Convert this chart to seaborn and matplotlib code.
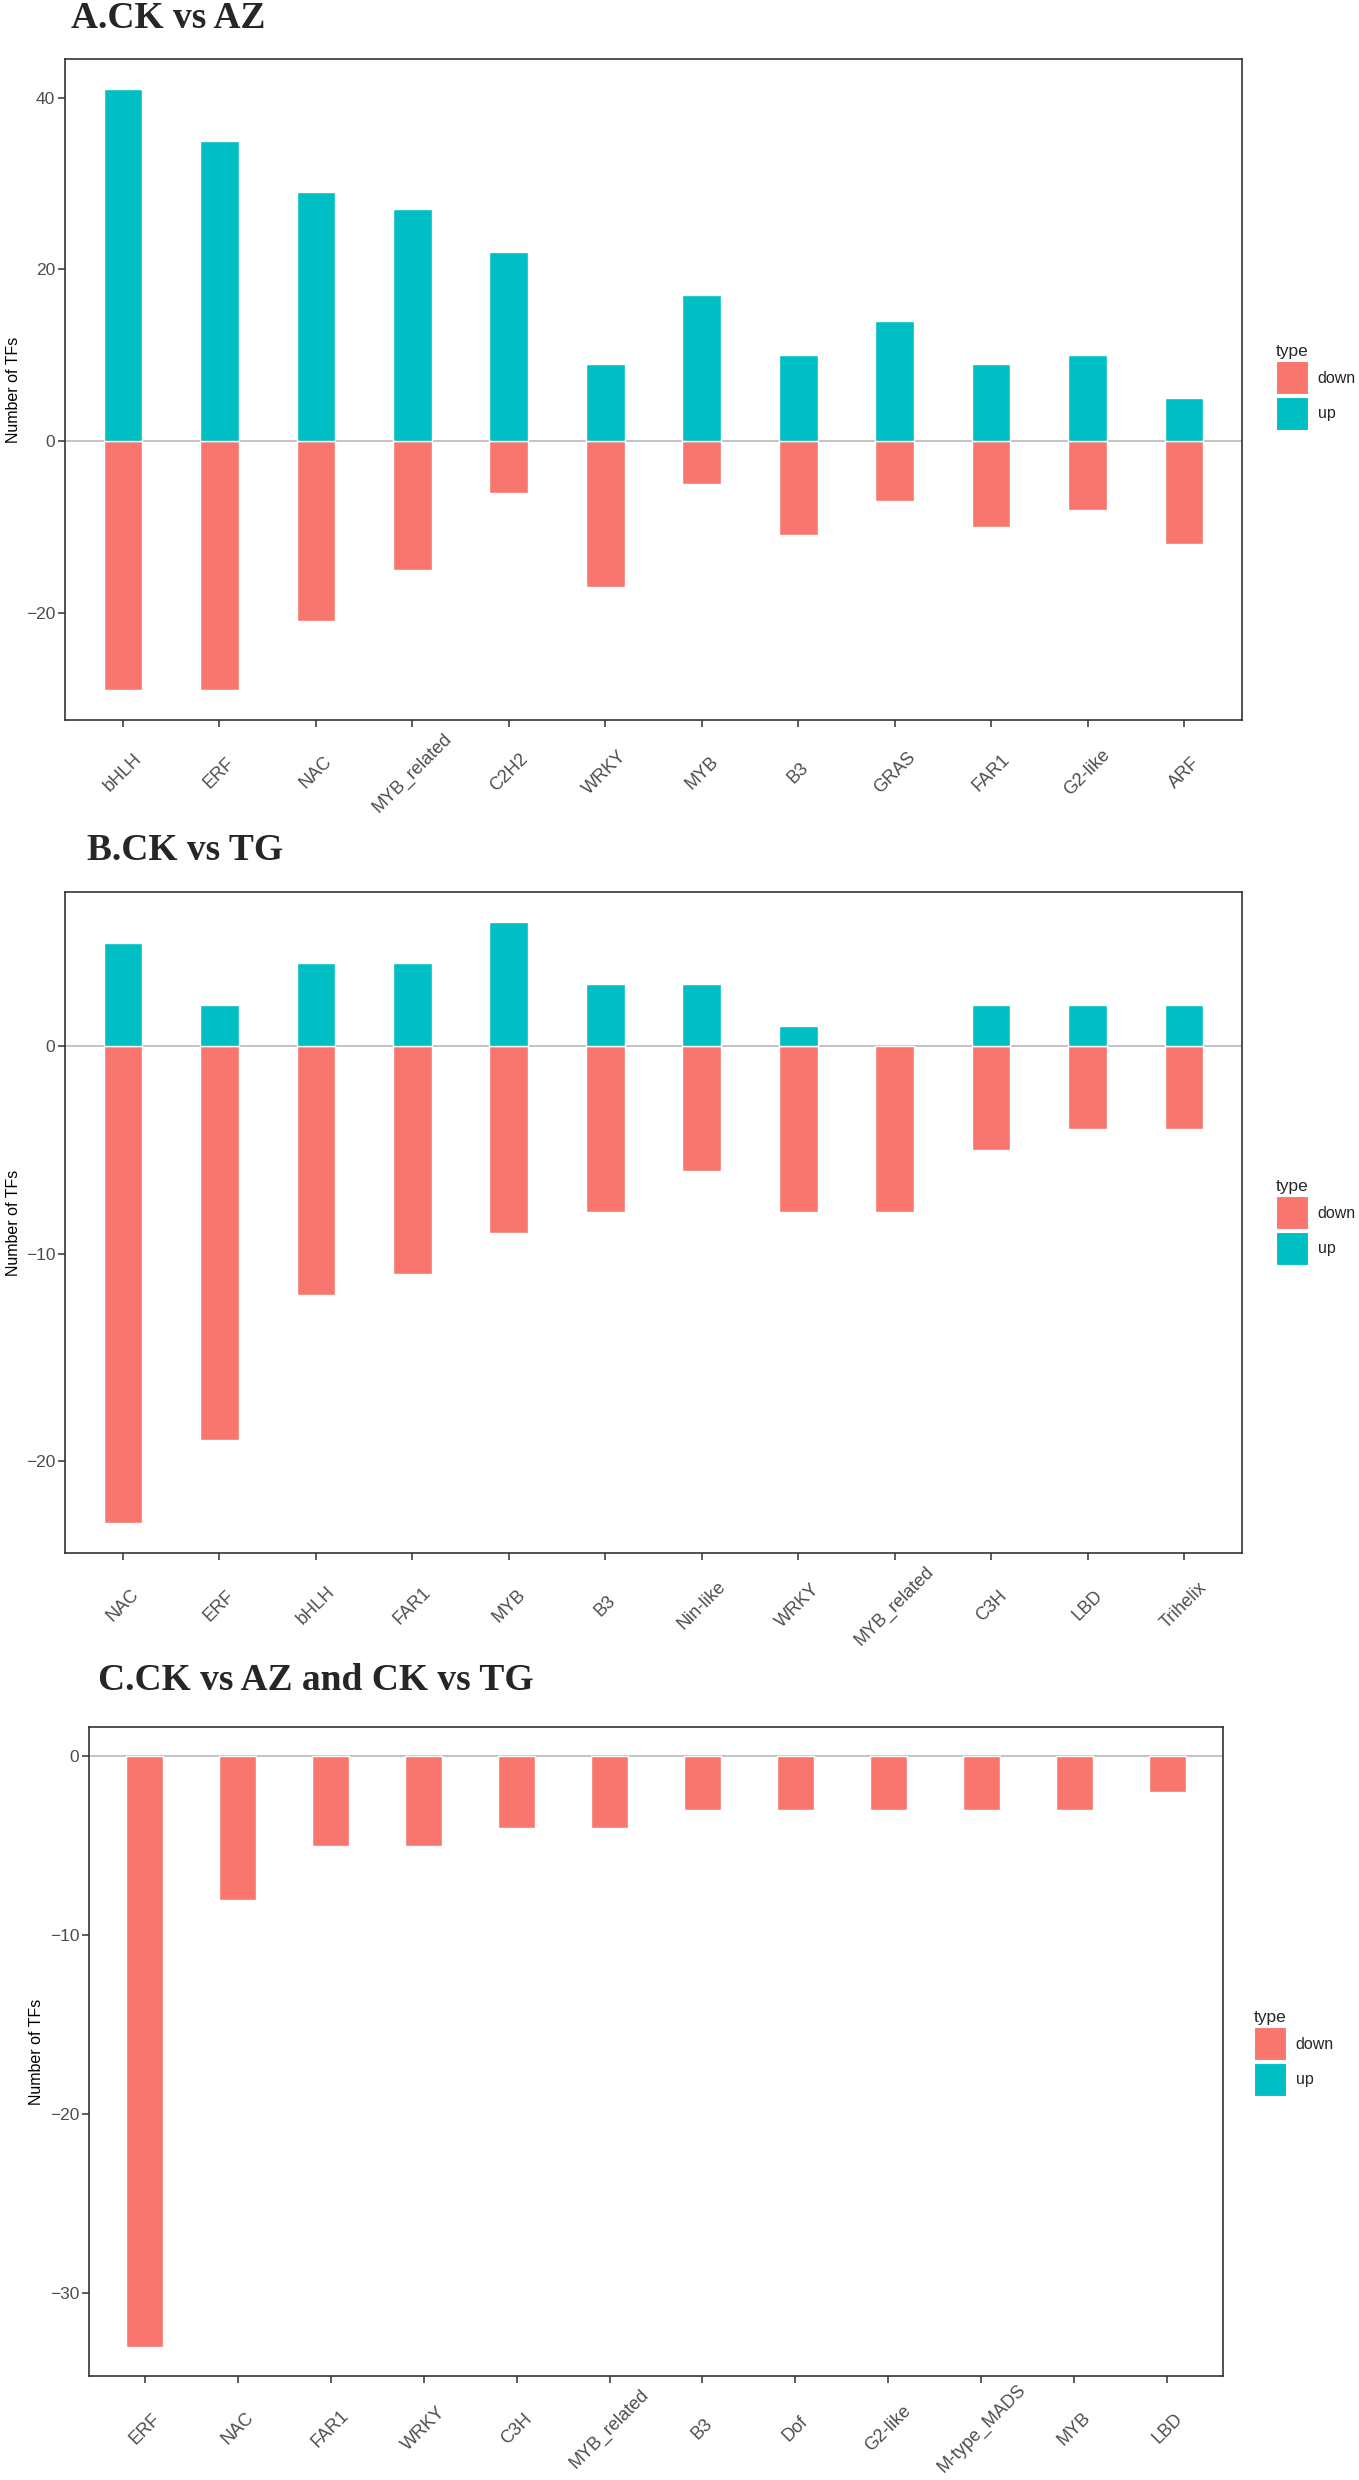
import pandas as pd
import seaborn as sns
import matplotlib.pyplot as plt
from matplotlib.patches import Patch
from matplotlib.ticker import MultipleLocator

# panel A: CK vs AZ
a_tf = ['bHLH', 'ERF', 'NAC', 'MYB_related', 'C2H2', 'WRKY', 'MYB', 'B3', 'GRAS', 'FAR1', 'G2-like', 'ARF']
a_up = [41, 35, 29, 27, 22, 9, 17, 10, 14, 9, 10, 5]
a_down = [-29, -29, -21, -15, -6, -17, -5, -11, -7, -10, -8, -12]

# panel B: CK vs TG
b_tf = ['NAC', 'ERF', 'bHLH', 'FAR1', 'MYB', 'B3', 'Nin-like', 'WRKY', 'MYB_related', 'C3H', 'LBD', 'Trihelix']
b_up = [5, 2, 4, 4, 6, 3, 3, 1, 0, 2, 2, 2]
b_down = [-23, -19, -12, -11, -9, -8, -6, -8, -8, -5, -4, -4]

# panel C: CK vs AZ and CK vs TG
c_tf = ['ERF', 'NAC', 'FAR1', 'WRKY', 'C3H', 'MYB_related', 'B3', 'Dof', 'G2-like', 'M-type_MADS', 'MYB', 'LBD']
c_down = [-33, -8, -5, -5, -4, -4, -3, -3, -3, -3, -3, -2]

titles = ['A.CK vs AZ', 'B.CK vs TG', 'C.CK vs AZ and CK vs TG']
ysteps = [20, 10, 10]
pal = {'down': '#F8766D', 'up': '#00BFC4'}


def make_df(tfs, up, down):
    rows = []
    for t, d in zip(tfs, down):
        rows.append((t, d, 'down'))
    if up is not None:
        for t, u in zip(tfs, up):
            if u != 0:
                rows.append((t, u, 'up'))
    return pd.DataFrame(rows, columns=['tf', 'n', 'type'])


sns.set_style('white')
plt.rcParams['font.family'] = ['Liberation Sans', 'DejaVu Sans']

fig = plt.figure(figsize=(13.59, 24.8), dpi=100)
W, H = 1359, 2480

# [left, top, right, bottom] in pixels
boxes = [(65, 59, 1242, 720), (65, 892, 1242, 1553), (89, 1727, 1223, 2376)]
title_pos = [(71, 19), (87, 850), (98, 1680)]
leg_pos = [(1276, 344), (1276, 1179), (1254, 2010)]
ylabel_x = [-0.037, -0.037, -0.040]

data = [make_df(a_tf, a_up, a_down), make_df(b_tf, b_up, b_down), make_df(c_tf, None, c_down)]
orders = [a_tf, b_tf, c_tf]

for i in range(3):
    l, t, r, b = boxes[i]
    ax = fig.add_axes([l / W, 1 - b / H, (r - l) / W, (b - t) / H])
    ax.axhline(0, color='#BEBEBE', lw=1.3, zorder=0)
    sns.barplot(data=data[i], x='tf', y='n', hue='type', order=orders[i],
                hue_order=['down', 'up'], palette=pal, dodge=False, width=0.4,
                saturation=1, ax=ax, legend=False, zorder=2)
    df = data[i]
    lo, hi = min(df['n'].min(), 0), max(df['n'].max(), 0)
    pad = (hi - lo) * 0.05
    ax.set_ylim(lo - pad, hi + pad)
    ax.set_xlim(-0.6, len(orders[i]) - 0.4)
    ax.yaxis.set_major_locator(MultipleLocator(ysteps[i]))
    ax.set_xlabel('')
    ax.set_ylabel('Number of TFs', fontsize=11.5, color='black')
    ax.yaxis.set_label_coords(ylabel_x[i], 0.5)
    for s in ax.spines.values():
        s.set_color('#333333')
        s.set_linewidth(1.2)
    ax.tick_params(axis='both', which='both', length=5, width=1.1, color='#333333',
                   labelcolor='#4D4D4D', bottom=True, left=True)
    ax.tick_params(axis='y', labelsize=12.5, pad=2)
    ax.tick_params(axis='x', labelsize=13, pad=33)
    for lab in ax.get_xticklabels():
        lab.set_rotation(45)
        lab.set_ha('center')
        lab.set_va('center')
        lab.set_rotation_mode('anchor')
    fig.text(title_pos[i][0] / W, 1 - title_pos[i][1] / H, titles[i],
             family='Liberation Serif', fontweight='bold', fontsize=27,
             va='center', ha='left')
    handles = [Patch(facecolor=pal['down'], edgecolor='white', lw=0.8, label='down'),
               Patch(facecolor=pal['up'], edgecolor='white', lw=0.8, label='up')]
    fig.legend(handles=handles, title='type', loc='upper left',
               bbox_to_anchor=(leg_pos[i][0] / W, 1 - leg_pos[i][1] / H),
               frameon=False, fontsize=11.5, title_fontsize=12.5,
               handlelength=2.0, handleheight=2.8, labelspacing=0.15,
               handletextpad=0.6, borderaxespad=0, borderpad=0, alignment='left')

fig.savefig('out.png', dpi=100)
